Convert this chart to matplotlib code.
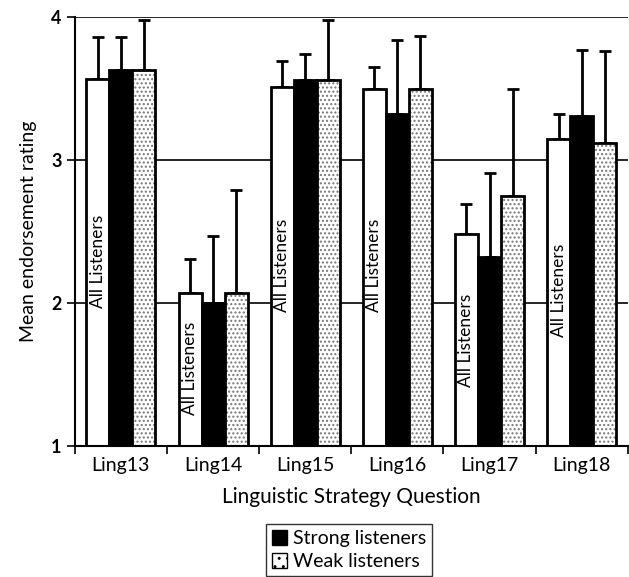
import matplotlib
matplotlib.use('Agg')
import matplotlib.pyplot as plt
from matplotlib.patches import Patch
import numpy as np

plt.rcParams['font.family'] = ['Lato', 'DejaVu Sans']

questions = ['Ling13', 'Ling14', 'Ling15', 'Ling16', 'Ling17', 'Ling18']
all_mean = [3.57, 2.07, 3.51, 3.50, 2.48, 3.15]
all_err = [0.29, 0.24, 0.18, 0.15, 0.21, 0.17]
strong_mean = [3.63, 2.00, 3.56, 3.32, 2.32, 3.31]
strong_err = [0.23, 0.47, 0.18, 0.52, 0.59, 0.46]
weak_mean = [3.63, 2.07, 3.56, 3.50, 2.75, 3.12]
weak_err = [0.35, 0.72, 0.42, 0.37, 0.75, 0.64]

# y position of the rotated "All Listeners" labels
label_y = [2.29, 1.54, 2.26, 2.26, 1.74, 2.09]

fig = plt.figure(figsize=(6.29, 5.77), dpi=100)
ax = fig.add_axes([0.119, 0.227, 0.879, 0.7435])

x = np.arange(len(questions))
w = 0.25
base = 1.0

for yv in [2, 3, 4]:
    ax.axhline(yv, color='black', lw=1.2, zorder=0)

def bars(pos, mean, err, face, hatch=None):
    h = np.array(mean) - base
    if hatch:
        ax.bar(pos, h, w, bottom=base, color='white', edgecolor='#777777',
               hatch=hatch, linewidth=0, zorder=2)
        ax.bar(pos, h, w, bottom=base, color='none', edgecolor='black',
               linewidth=2, zorder=3)
    else:
        ax.bar(pos, h, w, bottom=base, color=face, edgecolor='black',
               linewidth=2, zorder=2)
    ax.errorbar(pos, mean, yerr=[np.zeros(len(err)), err], fmt='none',
                ecolor='black', elinewidth=2, capsize=4, capthick=2, zorder=1)

bars(x - w, all_mean, all_err, 'white')
bars(x, strong_mean, strong_err, 'black')
bars(x + w, weak_mean, weak_err, 'white', hatch='....')

for xi, ly in zip(x - w, label_y):
    ax.text(xi, ly, 'All Listeners', rotation=90, ha='center', va='center',
            fontsize=12.5, zorder=4)

ax.set_xlim(-0.5, len(questions) - 0.5)
ax.set_ylim(1, 4)
ax.set_yticks([1, 2, 3, 4])
ax.set_yticklabels(['1', '2', '3', '4'], fontsize=13, fontweight='bold')
ax.set_xticks(x)
ax.set_xticklabels(questions, fontsize=14)
ax.set_xticks(np.arange(-0.5, len(questions)), minor=True)
ax.tick_params(axis='x', which='major', length=0, pad=8)
ax.tick_params(axis='x', which='minor', length=6, width=1.2)
ax.tick_params(axis='y', length=6, width=1.2)
ax.spines['top'].set_visible(False)
ax.spines['right'].set_visible(False)
ax.spines['left'].set_linewidth(1.5)
ax.spines['bottom'].set_linewidth(1.5)

ax.set_xlabel('Linguistic Strategy Question', fontsize=15, labelpad=9)
ax.set_ylabel('Mean endorsement rating', fontsize=14, labelpad=10)

handles = [Patch(facecolor='black', edgecolor='black', label='Strong listeners'),
           Patch(facecolor='white', edgecolor='black', hatch='..', label='Weak listeners')]
fig.legend(handles=handles, loc='lower center', bbox_to_anchor=(0.555, 0.0),
           fontsize=14, frameon=True, fancybox=False, edgecolor='black',
           handlelength=0.8, handleheight=0.8, handletextpad=0.3,
           borderpad=0.3, labelspacing=0.3, borderaxespad=0.05)

fig.savefig('out.png', dpi=100)
